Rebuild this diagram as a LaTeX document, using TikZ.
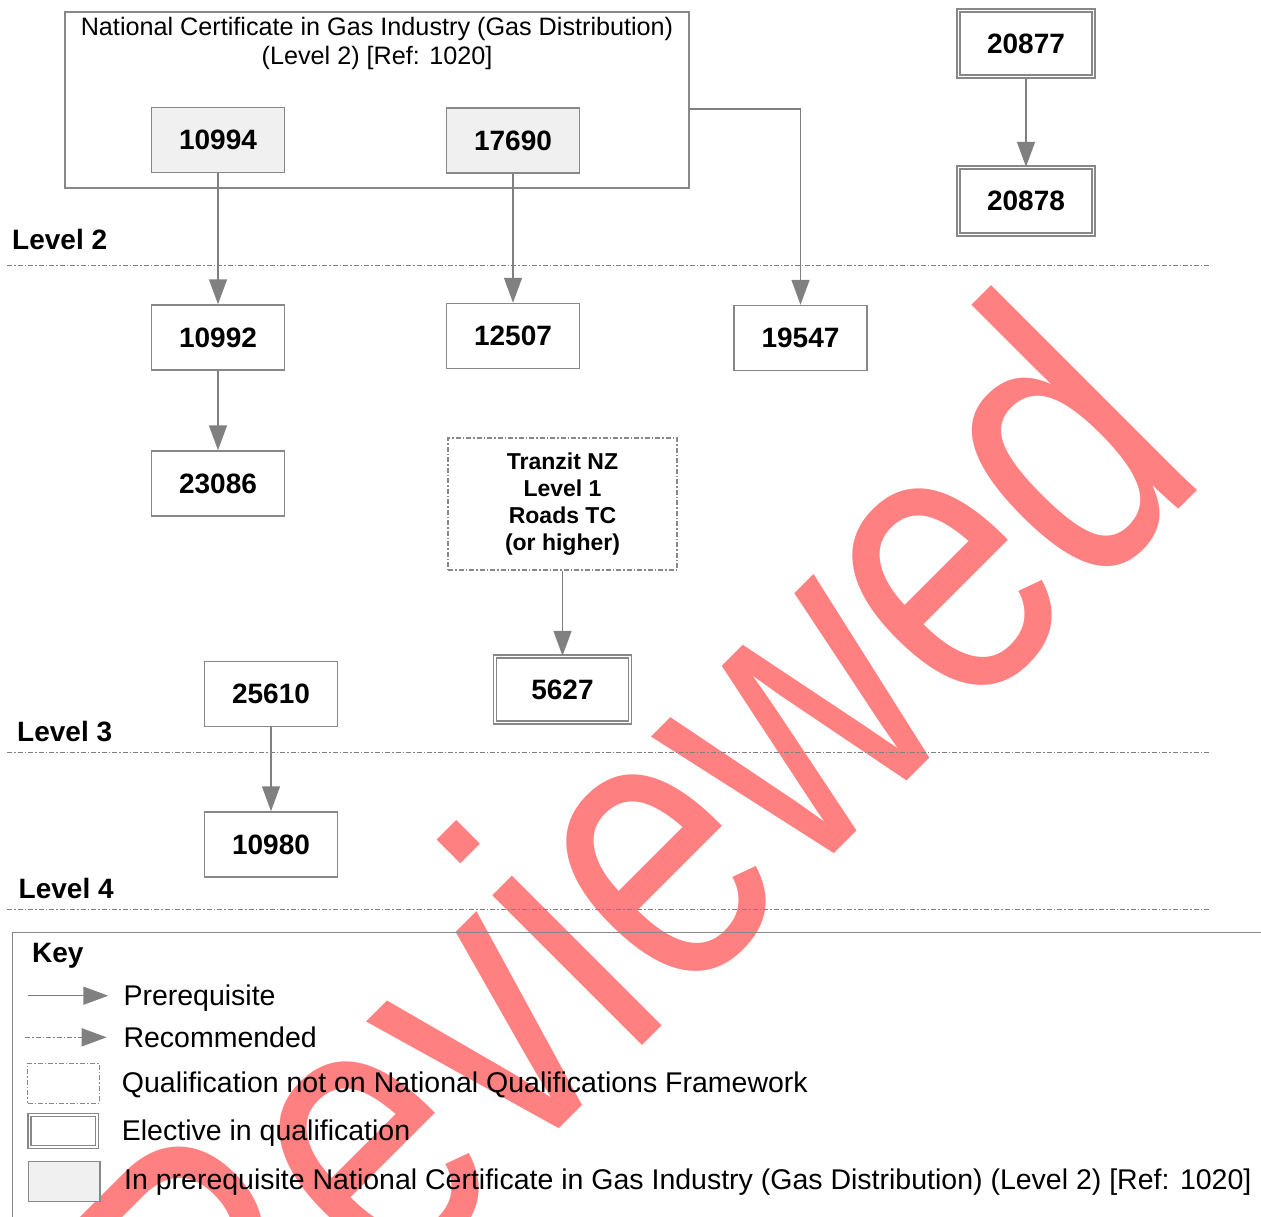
\documentclass[tikz,border=0pt]{standalone}
\usepackage{fontspec}
\setmainfont{Liberation Sans}
\usetikzlibrary{arrows.meta}
\definecolor{wmred}{RGB}{255,128,128}
\definecolor{boxgrey}{RGB}{136,136,136}
\definecolor{certfill}{RGB}{240,240,240}

\begin{document}
\begin{tikzpicture}[x=1pt,y=-1pt,
        unit/.style={draw=boxgrey,line width=1.5pt,minimum width=133pt,minimum height=65pt,inner sep=0pt,font=\fontsize{28}{32}\selectfont\bfseries},
        incert/.style={unit,fill=certfill},
        elective/.style={unit,double=white,double distance=1.5pt,line width=1.4pt,minimum width=135pt,minimum height=66pt},
        external/.style={draw=boxgrey,line width=1.3pt,inner sep=0pt,dash pattern=on 5pt off 2pt on 1.5pt off 2pt},
        pre/.style={draw=gray,line width=1.5pt,-{Triangle[length=25pt,width=18pt]}},
        rec/.style={pre,dash pattern=on 5pt off 2pt on 1.5pt off 2pt},
        levelline/.style={draw=gray,line width=1pt,dash pattern=on 5pt off 2pt on 1.5pt off 2pt},
        levellabel/.style={anchor=base west,inner sep=0pt,font=\fontsize{28}{32}\selectfont\bfseries},
        keytext/.style={anchor=base west,inner sep=0pt,font=\fontsize{28.5}{32}\selectfont}]
                \useasboundingbox (0,0) rectangle (1261,1216);
                \node[anchor=base west,inner sep=0pt,rotate=45,text=wmred,font=\fontsize{401}{401}\selectfont] (stamp) at (229,1459) {\scalebox{0.79}[1]{Reviewed}};

                \node[draw=boxgrey,line width=1.5pt,minimum width=624pt,minimum height=176pt] (ncert) at (377,100) {};
                \node[anchor=north,align=center,inner sep=0pt,font=\fontsize{25.2}{29}\selectfont] (ncerttitle) at (377,17.5) {National Certificate in Gas Industry (Gas Distribution)\\(Level 2) [Ref: 1020]};
                \node[incert] (u10994) at (218,140) {10994};
                \node[incert] (u17690) at (513,140.5) {17690};
                \node[unit] (u19547) at (800.5,338) {19547};
                \node[unit] (u10992) at (218,337.5) {10992};
                \node[unit] (u12507) at (513,336) {12507};
                \node[unit] (u23086) at (218,483.5) {23086};
                \node[external,minimum width=229pt,minimum height=132pt,align=center,font=\fontsize{23}{27}\selectfont\bfseries] (tranzit) at (562.5,504) {Tranzit NZ\\Level 1\\Roads TC\\(or higher)};
                \node[elective] (u5627) at (562.5,689.5) {5627};
                \node[unit] (u25610) at (271,694) {25610};
                \node[unit] (u10980) at (271,844.5) {10980};
                \node[elective] (u20877) at (1026,43.5) {20877};
                \node[elective,minimum height=67pt] (u20878) at (1026,201) {20878};

                \coordinate (ncertout) at (689,109);
                \draw[pre] (u10994) -- (u10992);
                \draw[pre] (u17690) -- (u12507);
                \draw[pre] (ncertout) -| (u19547);
                \draw[pre] (u10992) -- (u23086);
                \draw[pre] (tranzit) -- (u5627);
                \draw[pre] (u25610) -- (u10980);
                \draw[pre] (u20877) -- (u20878);

                \node[levellabel] (lvl2) at (12,249) {Level 2};
                \node[levellabel] (lvl3) at (17,741) {Level 3};
                \node[levellabel] (lvl4) at (18.5,898) {Level 4};
                \draw[levelline] (7,265.5) -- (1211,265.5);
                \draw[levelline] (7,752) -- (1211,752);
                \draw[levelline] (7,909.5) -- (1211,909.5);

                \draw[draw=boxgrey,line width=1pt] (12.7,1240) -- (12.7,932.7) -- (1290,932.7);
                \node[levellabel] (keytitle) at (32,962.5) {Key};
                \coordinate (keyprea) at (27.7,995.7);
                \coordinate (keypreb) at (108.3,995.7);
                \draw[pre] (keyprea) -- (keypreb);
                \node[keytext] (keypre) at (123.3,1005.5) {Prerequisite};
                \coordinate (keyreca) at (25,1037.3);
                \coordinate (keyrecb) at (106.7,1037.3);
                \draw[rec] (keyreca) -- (keyrecb);
                \node[keytext] (keyrec) at (123.3,1047) {Recommended};
                \node[external,minimum width=71.6pt,minimum height=40pt] (keyextbox) at (63.5,1083.3) {};
                \node[keytext] (keyext) at (121.7,1092.5) {Qualification not on National Qualifications Framework};
                \node[elective,minimum width=67.7pt,minimum height=32.3pt] (keyelectbox) at (63.3,1131) {};
                \node[keytext] (keyelect) at (121.7,1140.5) {Elective in qualification};
                \node[incert,minimum width=71.7pt,minimum height=40pt] (keycertbox) at (64.2,1181.7) {};
                \node[keytext] (keycert) at (124,1189) {In prerequisite National Certificate in Gas Industry (Gas Distribution) (Level 2) [Ref: 1020]};
\end{tikzpicture}
\end{document}
